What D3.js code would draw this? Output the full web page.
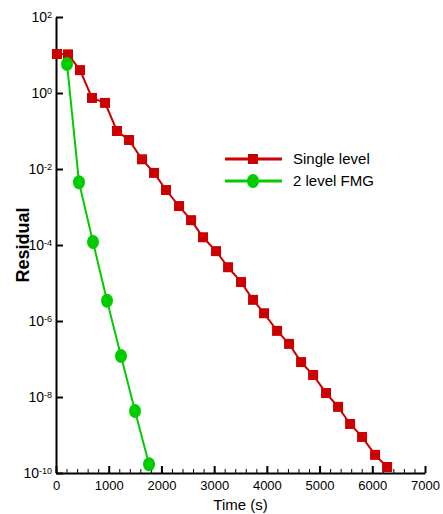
<!DOCTYPE html>
<html>
<head>
<meta charset="utf-8">
<script src="https://cdn.jsdelivr.net/npm/d3@7"></script>
<style>
	body { margin: 0; background: #fff; }
	text { font-family: "Liberation Sans", Arial, sans-serif; }
</style>
</head>
<body>
<svg id="chart"></svg>
<script>
const singleTime = [19, 228, 455, 683, 930, 1157, 1385, 1632, 1860, 2087, 2334, 2562, 2789, 3036,
	3264, 3510, 3738, 3947, 4194, 4421, 4649, 4877, 5123, 5351, 5579, 5806, 6053, 6281];
const singleResidual = [10.6, 10.4, 4.0, 0.74, 0.55, 0.10, 0.058, 0.018, 7.9e-3, 2.8e-3, 1.06e-3,
	4.5e-4, 1.6e-4, 6.9e-5, 2.6e-5, 1.06e-5, 3.6e-6, 1.6e-6, 5.5e-7, 2.5e-7, 8.3e-8, 3.8e-8,
	1.27e-8, 5.5e-9, 1.95e-9, 8.9e-10, 3.0e-10, 1.44e-10];
const fmgTime = [209, 436, 702, 968, 1233, 1499, 1765];
const fmgResidual = [5.8, 4.5e-3, 1.2e-4, 3.4e-6, 1.2e-7, 4.3e-9, 1.7e-10];

const xTicks = [0, 1000, 2000, 3000, 4000, 5000, 6000, 7000];
const yTicks = [1e2, 1e0, 1e-2, 1e-4, 1e-6, 1e-8, 1e-10];
const seriesNames = ['Single level', '2 level FMG'];

const DIMENSION = {
	width: 443,
	height: 514,
	margin: { left: 56, right: 18, top: 17, bottom: 41 }
};
DIMENSION.trueWidth = DIMENSION.width - (DIMENSION.margin.left + DIMENSION.margin.right);
DIMENSION.trueHeight = DIMENSION.height - (DIMENSION.margin.top + DIMENSION.margin.bottom);

const RED = '#cc0000';
const GREEN = '#00cc00';

const svg = d3.select('#chart')
	.attr('width', DIMENSION.width)
	.attr('height', DIMENSION.height);

const g = svg.append('g')
	.attr('transform', `translate(${DIMENSION.margin.left},${DIMENSION.margin.top})`);

const xScale = d3.scaleLinear()
	.domain([0, 7000])
	.range([0, DIMENSION.trueWidth]);
const yScale = d3.scaleLog()
	.domain([1e-10, 1e2])
	.range([DIMENSION.trueHeight, 0]);

// minor x ticks
g.append('g')
	.attr('transform', `translate(0,${DIMENSION.trueHeight})`)
	.call(d3.axisBottom(xScale).tickValues(d3.range(0, 7001, 200)).tickSize(-4).tickFormat(''))
	.call(s => s.select('.domain').remove())
	.call(s => s.selectAll('line').attr('stroke', '#000').attr('stroke-width', 1));

const xAxis = g.append('g')
	.attr('transform', `translate(0,${DIMENSION.trueHeight})`)
	.call(d3.axisBottom(xScale).tickValues(xTicks).tickSize(-7).tickSizeOuter(0).tickPadding(8).tickFormat(d3.format('d')));
xAxis.select('.domain').attr('stroke-width', 2);
xAxis.selectAll('line').attr('stroke-width', 2);
xAxis.selectAll('text').attr('font-size', 13).attr('fill', '#000');

const yAxis = g.append('g')
	.call(d3.axisLeft(yScale).tickValues(yTicks).tickSize(-7).tickSizeOuter(0).tickFormat(''));
yAxis.select('.domain').attr('stroke-width', 2);
yAxis.selectAll('line').attr('stroke-width', 2);
yAxis.selectAll('.tick text').remove();

const yLabel = yAxis.selectAll('.tick')
	.append('text')
	.attr('x', -4)
	.attr('dy', '0.35em')
	.attr('text-anchor', 'end')
	.attr('fill', '#000')
	.attr('font-size', 14);
yLabel.append('tspan').text('10');
yLabel.append('tspan')
	.attr('font-size', 9)
	.attr('dy', '-0.45em')
	.text(d => Math.round(Math.log10(d)));

// axis titles
svg.append('text')
	.attr('x', DIMENSION.margin.left + xScale(3500))
	.attr('y', 510)
	.attr('text-anchor', 'middle')
	.attr('font-size', 15)
	.text('Time (s)');

svg.append('text')
	.attr('transform', `translate(29,${DIMENSION.margin.top + DIMENSION.trueHeight / 2}) rotate(-90)`)
	.attr('text-anchor', 'middle')
	.attr('font-size', 18)
	.attr('font-weight', 'bold')
	.text('Residual');

const line = d3.line()
	.x(d => xScale(d[0]))
	.y(d => yScale(d[1]));

const single = d3.zip(singleTime, singleResidual);
const fmg = d3.zip(fmgTime, fmgResidual);

g.append('path')
	.datum(single)
	.attr('fill', 'none')
	.attr('stroke', RED)
	.attr('stroke-width', 2)
	.attr('d', line);

g.append('path')
	.datum(fmg)
	.attr('fill', 'none')
	.attr('stroke', GREEN)
	.attr('stroke-width', 2)
	.attr('d', line);

g.selectAll('rect.single')
	.data(single)
	.enter()
	.append('rect')
	.attr('class', 'single')
	.attr('x', d => xScale(d[0]) - 5)
	.attr('y', d => yScale(d[1]) - 5)
	.attr('width', 10)
	.attr('height', 10)
	.attr('fill', RED);

g.selectAll('ellipse.fmg')
	.data(fmg)
	.enter()
	.append('ellipse')
	.attr('class', 'fmg')
	.attr('cx', d => xScale(d[0]))
	.attr('cy', d => yScale(d[1]))
	.attr('rx', 6)
	.attr('ry', 7)
	.attr('fill', GREEN);

// legend
const legend = svg.append('g').attr('transform', 'translate(225,159)');
const items = legend.selectAll('g')
	.data(seriesNames)
	.enter()
	.append('g')
	.attr('transform', (d, i) => `translate(0,${i * 22})`);

items.append('line')
	.attr('x1', 0).attr('x2', 57)
	.attr('stroke', (d, i) => i === 0 ? RED : GREEN)
	.attr('stroke-width', 3);
items.filter((d, i) => i === 0).append('rect')
	.attr('x', 23).attr('y', -5).attr('width', 10).attr('height', 10)
	.attr('fill', RED);
items.filter((d, i) => i === 1).append('ellipse')
	.attr('cx', 28).attr('rx', 6).attr('ry', 7)
	.attr('fill', GREEN);
items.append('text')
	.attr('x', 68)
	.attr('dy', '0.35em')
	.attr('font-size', 15)
	.text(d => d);
</script>
</body>
</html>
